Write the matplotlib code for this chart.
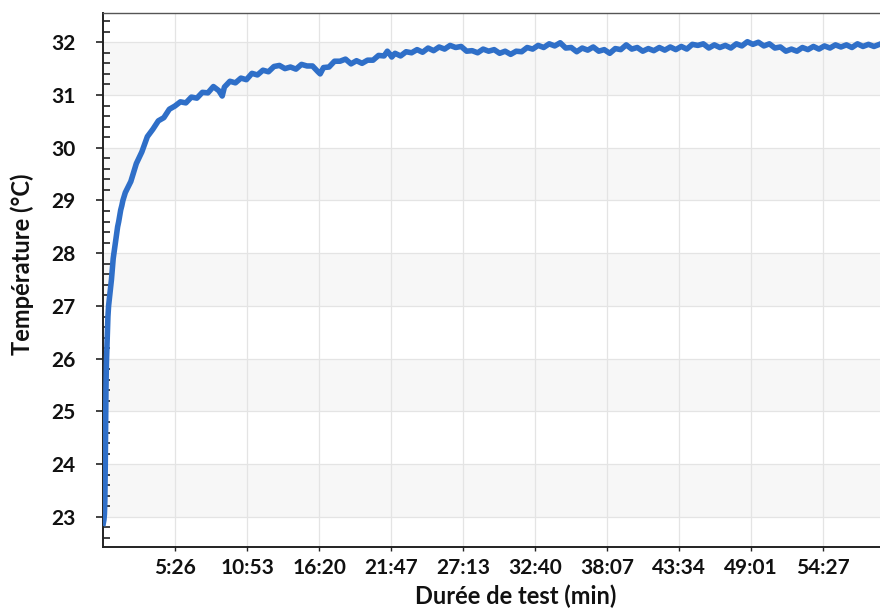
import matplotlib
matplotlib.use("Agg")
import matplotlib.pyplot as plt
from matplotlib.ticker import MultipleLocator, FixedLocator, NullFormatter

plt.rcParams['font.family'] = ['Lato', 'DejaVu Sans']

# ---------------- data ----------------
time_s = [0, 3, 5, 7, 8, 9, 10, 11, 12, 14, 17, 19, 21, 24, 28, 32, 37, 41, 45, 50,
          55, 60, 65, 70, 74, 79, 84, 89,
          100, 125, 150, 175, 200, 225, 250, 275, 300, 325, 350, 375, 400, 425, 450,
          475, 500, 525, 540, 550, 575, 600, 625, 650, 675, 700, 725, 750, 775, 800,
          825, 850, 875, 900, 925, 950, 975, 985, 1000, 1025, 1050, 1075, 1100, 1125,
          1150, 1175, 1200, 1225, 1250, 1275, 1290, 1300, 1310, 1325, 1350, 1375,
          1400, 1425, 1450, 1475, 1500, 1525, 1550, 1575, 1600, 1625, 1650, 1675,
          1700, 1725, 1750, 1775, 1800, 1825, 1850, 1875, 1900, 1925, 1950, 1975,
          2000, 2025, 2050, 2075, 2100, 2125, 2150, 2175, 2200, 2225, 2250, 2275,
          2300, 2325, 2350, 2375, 2400, 2425, 2450, 2475, 2500, 2525, 2550, 2575,
          2600, 2625, 2650, 2675, 2700, 2725, 2750, 2775, 2800, 2825, 2850, 2875,
          2900, 2925, 2950, 2975, 3000, 3025, 3050, 3075, 3100, 3125, 3150, 3175,
          3200, 3225, 3250, 3275, 3300, 3325, 3350, 3375, 3400, 3425, 3450, 3475,
          3500, 3525]

temperature_c = [22.88, 22.95, 23.05, 23.3, 23.6, 24.0, 24.5, 24.9, 25.4, 25.9, 26.3,
                 26.6, 26.8, 27.0, 27.15, 27.3, 27.5, 27.7, 27.9, 28.05, 28.2, 28.35,
                 28.5, 28.6, 28.7, 28.82, 28.9, 29.0,
                 29.15, 29.36, 29.70, 29.92, 30.21, 30.35, 30.51, 30.57, 30.73, 30.79,
                 30.87, 30.85, 30.96, 30.94, 31.05, 31.04, 31.16, 31.08, 30.98, 31.15,
                 31.26, 31.23, 31.32, 31.29, 31.41, 31.38, 31.47, 31.44, 31.54, 31.56,
                 31.50, 31.53, 31.49, 31.58, 31.55, 31.55, 31.44, 31.40, 31.52, 31.53,
                 31.64, 31.64, 31.68, 31.59, 31.65, 31.60, 31.66, 31.66, 31.75, 31.74,
                 31.83, 31.78, 31.72, 31.79, 31.74, 31.82, 31.80, 31.86, 31.81, 31.89,
                 31.84, 31.91, 31.87, 31.94, 31.90, 31.92, 31.83, 31.84, 31.80, 31.87,
                 31.83, 31.86, 31.79, 31.83, 31.77, 31.83, 31.82, 31.90, 31.87, 31.94,
                 31.90, 31.97, 31.93, 31.99, 31.89, 31.90, 31.82, 31.89, 31.85, 31.91,
                 31.83, 31.86, 31.79, 31.88, 31.86, 31.95, 31.87, 31.90, 31.83, 31.88,
                 31.84, 31.90, 31.85, 31.91, 31.86, 31.92, 31.87, 31.96, 31.94, 31.97,
                 31.89, 31.95, 31.90, 31.94, 31.89, 31.97, 31.93, 32.01, 31.96, 32.00,
                 31.93, 31.97, 31.89, 31.91, 31.83, 31.87, 31.83, 31.90, 31.86, 31.92,
                 31.87, 31.93, 31.89, 31.95, 31.91, 31.95, 31.90, 31.97, 31.92, 31.96,
                 31.92, 31.96]

x_tick_labels = ["5:26", "10:53", "16:20", "21:47", "27:13", "32:40",
                 "38:07", "43:34", "49:01", "54:27"]
y_ticks = [23, 24, 25, 26, 27, 28, 29, 30, 31, 32]
shaded_bands = [(23, 24), (25, 26), (27, 28), (29, 30), (31, 32)]

x_label = "Durée de test (min)"
y_label = "Température (°C)"


def to_seconds(lbl):
    m, s = lbl.split(":")
    return int(m) * 60 + int(s)


x_tick_pos = [to_seconds(l) for l in x_tick_labels]

# ---------------- figure ----------------
fig = plt.figure(figsize=(8.8, 6.08), dpi=100)
ax = fig.add_axes([103.3 / 880, 1 - 547 / 608, (896 - 103.3) / 880, (547 - 12.7) / 608])

ax.set_xlim(0, 3600)
ax.set_ylim(22.43, 32.56)

for lo, hi in shaded_bands:
    ax.axhspan(lo, hi, color='#f7f7f7', zorder=0, lw=0)

ax.set_axisbelow(True)
ax.grid(True, which='major', color='#e4e4e4', lw=0.9)

ax.plot(time_s, temperature_c, color='#2f6fc8', lw=4.0, solid_joinstyle='round', zorder=3)

ax.xaxis.set_major_locator(FixedLocator(x_tick_pos))
ax.set_xticklabels(x_tick_labels)
ax.yaxis.set_major_locator(FixedLocator(y_ticks))
ax.yaxis.set_minor_locator(MultipleLocator(0.2))
ax.yaxis.set_minor_formatter(NullFormatter())

ax.tick_params(axis='y', which='major', direction='out', length=5, width=1.2,
               color='#222222', pad=15, labelsize=15)
ax.tick_params(axis='y', which='minor', direction='in', length=5, width=1.2,
               color='#222222')
ax.tick_params(axis='x', which='major', direction='out', length=3, width=1.0,
               color='#222222', pad=5, labelsize=15)
for lbl in ax.get_xticklabels() + ax.get_yticklabels():
    lbl.set_fontweight('bold')
    lbl.set_color('#111111')

ax.spines['right'].set_visible(False)
ax.spines['left'].set_color('#222222')
ax.spines['left'].set_linewidth(1.4)
ax.spines['bottom'].set_color('#222222')
ax.spines['bottom'].set_linewidth(1.4)
ax.spines['top'].set_color('#555555')
ax.spines['top'].set_linewidth(1.0)

fig.text(516 / 880, 1 - 596 / 608, x_label, ha='center', va='center',
         fontsize=17, fontweight='bold', color='#111111')
fig.text(22 / 880, 1 - 264 / 608, y_label, ha='center', va='center',
         rotation=90, fontsize=17, fontweight='bold', color='#111111')

fig.savefig("out.png", dpi=100)
